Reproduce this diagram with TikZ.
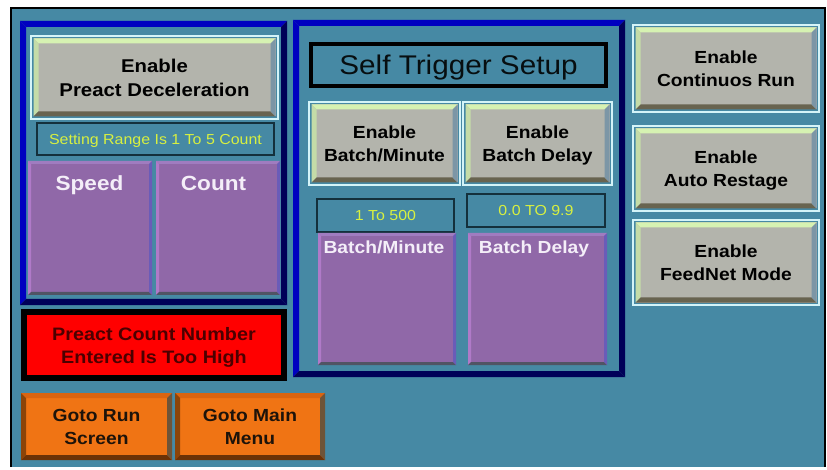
\documentclass[tikz,border=0pt]{standalone}
\usepackage{fontspec}
\newfontfamily\hmi[FakeStretch=1.1]{Liberation Sans}

% screen palette
\definecolor{scr}{HTML}{4689A4}
\definecolor{pnlblue}{HTML}{0000C0}
\definecolor{pnlnavy}{HTML}{000058}
\definecolor{btnface}{HTML}{B3B4AC}
\definecolor{btntop}{HTML}{D6F2B2}
\definecolor{btnleft}{HTML}{C4DCA8}
\definecolor{btnbot}{HTML}{686450}
\definecolor{btnright}{HTML}{7C96A6}
\definecolor{btnrim}{HTML}{D4F4F8}
\definecolor{vface}{HTML}{9068A8}
\definecolor{vtop}{HTML}{A07CC0}
\definecolor{vleft}{HTML}{B07AC8}
\definecolor{vbot}{HTML}{505464}
\definecolor{vright}{HTML}{6A5CB8}
\definecolor{oface}{HTML}{F07414}
\definecolor{otop}{HTML}{DA6410}
\definecolor{oleft}{HTML}{8C4408}
\definecolor{obot}{HTML}{6C3206}
\definecolor{oright}{HTML}{6E5438}
\definecolor{alarm}{HTML}{FF0000}
\definecolor{alarmtxt}{HTML}{4C0000}
\definecolor{rangetxt}{HTML}{D8F040}
\definecolor{rangeline}{HTML}{14303C}
\definecolor{lbltxt}{HTML}{F4EEF8}

% bevelled face: inset, bevel width, face, top, left, bottom, right
\newcommand\bevelfill[7]{%
  \path (path picture bounding box.north west) ++(#1pt,-#1pt) coordinate (bvA)
        (path picture bounding box.south east) ++(-#1pt,#1pt) coordinate (bvC);
  \path (bvA |- bvC) coordinate (bvD) (bvC |- bvA) coordinate (bvB);
  \fill[#3] (bvA) rectangle (bvC);
  \fill[#4] (bvA) -- (bvB) -- ([shift={(-#2pt,-#2pt)}]bvB) -- ([shift={(#2pt,-#2pt)}]bvA) -- cycle;
  \fill[#5] (bvA) -- ([shift={(#2pt,-#2pt)}]bvA) -- ([shift={(#2pt,#2pt)}]bvD) -- (bvD) -- cycle;
  \fill[#6] (bvD) -- (bvC) -- ([shift={(-#2pt,#2pt)}]bvC) -- ([shift={(#2pt,#2pt)}]bvD) -- cycle;
  \fill[#7] (bvB) -- (bvC) -- ([shift={(-#2pt,#2pt)}]bvC) -- ([shift={(-#2pt,-#2pt)}]bvB) -- cycle;
}

\tikzset{
  box/.style={rectangle, inner sep=0pt, outer sep=0pt, align=center, text depth=0pt},
  bevelled/.style n args={7}{path picture={\bevelfill{#1}{#2}{#3}{#4}{#5}{#6}{#7}}},
  panel/.style={box, fill=scr, bevelled={0}{6}{scr}{pnlblue}{pnlblue}{pnlnavy}{pnlnavy}},
  % negative text depth sets the caption a little below the geometric centre
  gbtn/.style={box, draw=btnrim, line width=1.6pt, fill=scr, text depth=-4.5pt,
    bevelled={2.5}{5}{btnface}{btntop}{btnleft}{btnbot}{btnright},
    font=\hmi\bfseries\fontsize{17.5pt}{23pt}\selectfont, text=black},
  vbtn/.style={box, fill=vface, bevelled={0}{3}{vface}{vtop}{vleft}{vbot}{vright}},
  vlbl/.style={inner sep=0pt, anchor=base, text=lbltxt,
    font=\hmi\bfseries\fontsize{17.5pt}{21pt}\selectfont},
  obtn/.style={box, fill=oface, text depth=-2pt,
    bevelled={0}{5}{oface}{otop}{oleft}{obot}{oright},
    font=\hmi\bfseries\fontsize{17.5pt}{23pt}\selectfont, text=black!85!brown},
  rangebox/.style={box, draw=rangeline, line width=1.5pt, fill=scr, text=rangetxt,
    font=\hmi\fontsize{14.5pt}{17pt}\selectfont},
  titlebox/.style={box, draw=black, line width=4pt, fill=scr, text=black!90!scr,
    font=\hmi\fontsize{27pt}{30pt}\selectfont},
  alarmbox/.style={box, draw=black, line width=6pt, fill=alarm, text=alarmtxt,
    font=\hmi\bfseries\fontsize{18pt}{23pt}\selectfont},
}

\begin{document}
\begin{tikzpicture}[x=1pt,y=-1pt]
\useasboundingbox (0,0) rectangle (827,470);
\fill[white] (0,0) rectangle (827,470);
% screen area
\fill[scr] (11,8) rectangle (825,467);
\draw[black, line width=1.6pt] (10.8,467) -- (10.8,7.8) -- (825.2,7.8) -- (825.2,467);

% group panels
\node[panel, minimum width=267pt, minimum height=284pt] (pLeft) at (153.5,163) {};
\node[panel, minimum width=332pt, minimum height=357pt] (pMid) at (459,198.5) {};

% preact group
\node[gbtn, minimum width=247pt, minimum height=83pt, text depth=-2.5pt,
      font=\hmi\bfseries\fontsize{18.5pt}{24pt}\selectfont] (bPreact) at (154.5,77.5)
      {Enable\\Preact Deceleration};
\node[rangebox, minimum width=237pt, minimum height=32pt] (rSetting) at (155.5,139)
      {Setting Range Is 1 To 5 Count};
\node[vbtn, minimum width=124pt, minimum height=134pt] (vSpeed) at (90,228) {};
\node[vbtn, minimum width=124pt, minimum height=134pt] (vCount) at (218,228) {};
\node[vlbl, font=\hmi\bfseries\fontsize{20.5pt}{24pt}\selectfont] (lSpeed) at (89.5,191) {Speed};
\node[vlbl, font=\hmi\bfseries\fontsize{20.5pt}{24pt}\selectfont] (lCount) at (213.5,191) {Count};

% alarm message
\node[alarmbox, minimum width=260pt, minimum height=66pt] (aHigh) at (154,345)
      {Preact Count Number\\Entered Is Too High};

% navigation
\node[obtn, minimum width=151pt, minimum height=67pt] (bRun) at (96.5,426.5) {Goto Run\\Screen};
\node[obtn, minimum width=150pt, minimum height=67pt] (bMain) at (250,426.5) {Goto Main\\Menu};

% self trigger group
\node[titlebox, minimum width=295pt, minimum height=42pt] (tSelf) at (458.5,65) {Self Trigger Setup};
\node[gbtn, minimum width=151pt, minimum height=83pt] (bBM) at (384.5,143.5) {Enable\\Batch/Minute};
\node[gbtn, minimum width=149pt, minimum height=83pt] (bBD) at (537.5,143.5) {Enable\\Batch Delay};
\node[rangebox, minimum width=137pt, minimum height=33pt] (rBM) at (385.5,215.5) {1 To 500};
\node[rangebox, minimum width=138pt, minimum height=33pt] (rBD) at (536,210.5) {0.0 TO 9.9};
\node[vbtn, minimum width=138pt, minimum height=132pt] (vBM) at (387,299) {};
\node[vbtn, minimum width=139pt, minimum height=132pt] (vBD) at (537.5,299) {};
\node[vlbl] (lBM) at (384,254) {Batch/Minute};
\node[vlbl] (lBD) at (534,254) {Batch Delay};

% mode buttons
\node[gbtn, minimum width=186pt, minimum height=87pt] (bCont) at (726,68.5) {Enable\\Continuos Run};
\node[gbtn, minimum width=186pt, minimum height=85pt] (bAuto) at (726,168.5) {Enable\\Auto Restage};
\node[gbtn, minimum width=186pt, minimum height=85pt] (bFeed) at (726,262.5) {Enable\\FeedNet Mode};
\end{tikzpicture}
\end{document}
